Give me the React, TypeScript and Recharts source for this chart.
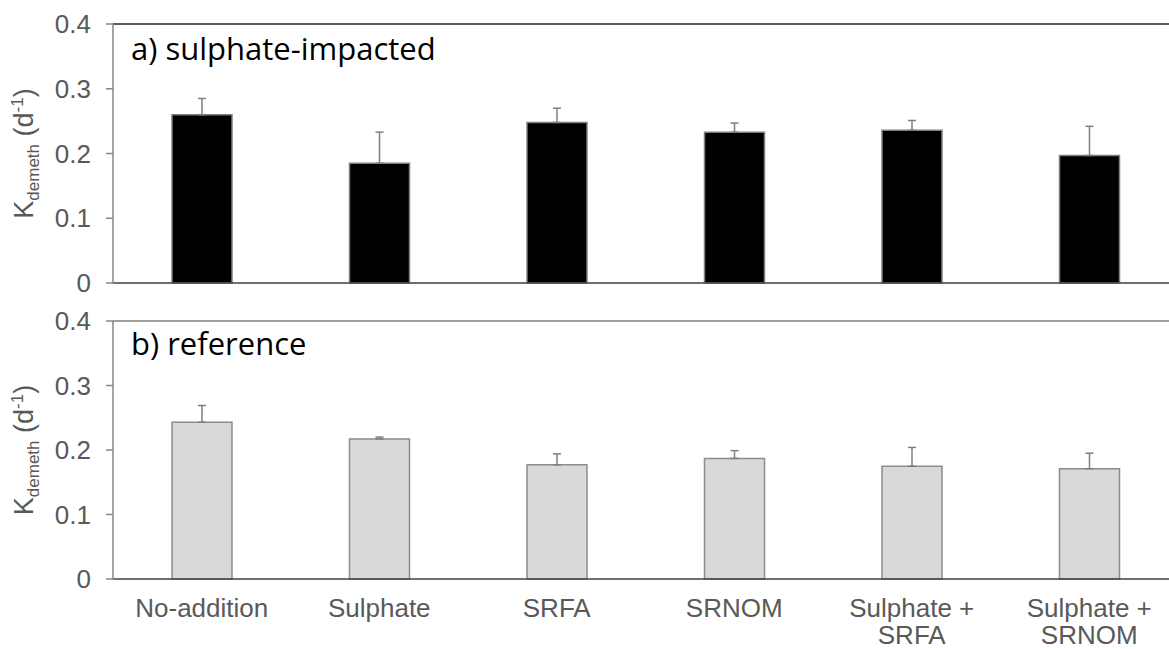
import React from 'react';
import { BarChart, Bar, XAxis, YAxis, ErrorBar, ReferenceLine } from 'recharts';

const categories = ['No-addition', 'Sulphate', 'SRFA', 'SRNOM', 'Sulphate +\nSRFA', 'Sulphate +\nSRNOM'];
const impacted = [0.26, 0.185, 0.248, 0.233, 0.236, 0.197];
const impactedErr = [0.025, 0.048, 0.022, 0.014, 0.015, 0.045];
const reference = [0.243, 0.217, 0.177, 0.187, 0.175, 0.171];
const referenceErr = [0.026, 0.003, 0.017, 0.012, 0.029, 0.024];
const yTicks = [0, 0.1, 0.2, 0.3, 0.4];

const TICK_FONT = '"Liberation Sans", Arial, sans-serif';
const TITLE_FONT = '"Open Sans", "Noto Sans", sans-serif';

const topData = categories.map((name, i) => ({ name, value: impacted[i], err: [0, impactedErr[i]] }));
const bottomData = categories.map((name, i) => ({ name, value: reference[i], err: [0, referenceErr[i]] }));

const YLabel = (props: any) => {
  const vb = props.viewBox || {};
  const cy = vb.y + vb.height / 2;
  const x = 33;
  return (
    <text
      x={x}
      y={cy}
      transform={`rotate(-90, ${x}, ${cy})`}
      textAnchor="middle"
      fill="#595959"
      fontFamily={TICK_FONT}
      fontSize={27}
    >
      K<tspan fontSize={17} dy={6}>demeth</tspan>
      <tspan dy={-6}> (d</tspan>
      <tspan fontSize={17} dy={-10}>-1</tspan>
      <tspan dy={10}>)</tspan>
    </text>
  );
};

// multi-line category labels
const CatTick = (props: any) => {
  const { x, y, payload } = props;
  const lines = String(payload.value).split('\n');
  return (
    <text x={x} y={y + 30} textAnchor="middle" fill="#595959" fontFamily={TICK_FONT} fontSize={26}>
      {lines.map((l, i) => (
        <tspan key={i} x={x} dy={i === 0 ? 0 : 27}>{l}</tspan>
      ))}
    </text>
  );
};

const Panel = ({ data, fill, stroke, topLine, height, marginTop, xHeight, showTicks }: any) => (
  <BarChart
    width={1183}
    height={height}
    data={data}
    margin={{ top: marginTop, right: 5, bottom: 0, left: 0 }}
    barSize={60}
  >
    <XAxis
      dataKey="name"
      height={xHeight}
      axisLine={{ stroke: '#404040', strokeWidth: 1.5 }}
      tickLine={false}
      tick={showTicks ? <CatTick /> : false}
      interval={0}
    />
    <YAxis
      width={113}
      domain={[0, 0.4]}
      ticks={yTicks}
      tickFormatter={(v) => String(v)}
      axisLine={{ stroke: '#868686', strokeWidth: 1.5 }}
      tickLine={{ stroke: '#868686', strokeWidth: 1.5 }}
      tickSize={7}
      tickMargin={15}
      tick={{ fill: '#595959', fontSize: 26, fontFamily: TICK_FONT }}
      label={<YLabel />}
    />
    <ReferenceLine y={0.4} stroke={topLine} strokeWidth={1.5} />
    <Bar dataKey="value" fill={fill} stroke={stroke} strokeWidth={1.5} isAnimationActive={false}>
      <ErrorBar dataKey="err" direction="y" width={4} stroke="#7f7f7f" strokeWidth={1.5} />
    </Bar>
  </BarChart>
);

export default function App() {
  return (
    <div style={{ position: 'fixed', left: 0, top: 0, width: 1169, height: 649, overflow: 'hidden', background: '#fff' }}>
      <div style={{ position: 'absolute', left: 0, top: 0 }}>
        <Panel data={topData} fill="#000000" stroke="#7f7f7f" topLine="#262626" height={300} marginTop={24} xHeight={17} showTicks={false} />
      </div>
      <div style={{ position: 'absolute', left: 0, top: 300 }}>
        <Panel data={bottomData} fill="#d9d9d9" stroke="#8c8c8c" topLine="#808080" height={349} marginTop={21} xHeight={70} showTicks />
      </div>
      <svg width={1169} height={649} style={{ position: 'absolute', left: 0, top: 0, pointerEvents: 'none' }}>
        <text x={131} y={60} fontFamily={TITLE_FONT} fontSize={31} fill="#000">a) sulphate-impacted</text>
        <text x={131} y={355} fontFamily={TITLE_FONT} fontSize={31} fill="#000">b) reference</text>
      </svg>
    </div>
  );
}
